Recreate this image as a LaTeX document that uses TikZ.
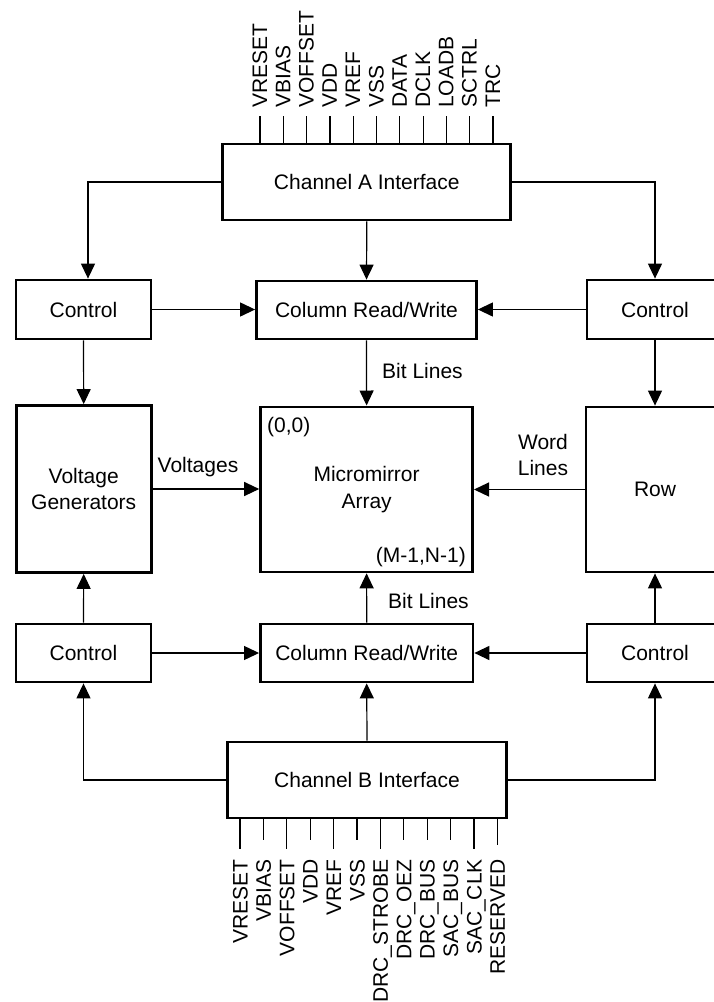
\documentclass[tikz,border=0pt]{standalone}
\usepackage{fontspec}
\setmainfont{Liberation Sans}
\usetikzlibrary{arrows.meta}
\begin{document}
\begin{tikzpicture}[x=1pt,y=-1pt,
  font=\fontsize{21}{26.5}\selectfont,
  box/.style={draw,line width=2.8pt,inner sep=0pt,align=center},
  arr/.style={line width=1.2pt,-{Triangle[length=15pt,width=14pt]}},
  con/.style={line width=1.2pt},
  lbl/.style={inner sep=0pt,align=center},
  pinlbl/.style={inner sep=0pt,rotate=90}]
\useasboundingbox (0,0) rectangle (713,1002);

% boxes
\node[box,minimum width=288pt,minimum height=76pt] (chA) at (366.8,182) {Channel A Interface};
\node[box,minimum width=135pt,minimum height=59pt] (ctlTL) at (83.5,309.5) {Control};
\node[box,minimum width=220pt,minimum height=58pt] (colT) at (366.5,310) {Column Read/Write};
\node[box,minimum width=136pt,minimum height=59pt] (ctlTR) at (655,309.5) {Control};
\node[box,minimum width=135pt,minimum height=167pt] (vg) at (83.7,489) {Voltage\\Generators};
\node[box,minimum width=212pt,minimum height=165pt] (ma) at (366.6,489.4) {Micromirror\\Array};
\node[box,minimum width=138pt,minimum height=165pt] (row) at (655,489.5) {Row};
\node[box,minimum width=135pt,minimum height=58pt] (ctlBL) at (83.5,653) {Control};
\node[box,minimum width=212.5pt,minimum height=58pt] (colB) at (366.7,653) {Column Read/Write};
\node[box,minimum width=136pt,minimum height=58pt] (ctlBR) at (655,653) {Control};
\node[box,minimum width=279.4pt,minimum height=76pt] (chB) at (367,780) {Channel B Interface};

% corner labels
\node[lbl,anchor=west] (c00) at (267,427) {(0,0)};
\node[lbl,anchor=east] (cmn) at (466,557) {(M-1,N-1)};

% connector labels
\node[lbl] (volt) at (198,467) {Voltages};
\node[lbl] (word) at (543,455) {Word\\Lines};
\node[lbl,anchor=west] (bitT) at (382,371) {Bit Lines};
\node[lbl,anchor=west] (bitB) at (388,601) {Bit Lines};

% connectors
\draw[arr] (chA.west) -| ([xshift=4.5pt]ctlTL.north);
\draw[arr] (chA.east) -| (ctlTR.north);
\draw[arr] (chA.south) -- (colT.north);
\draw[arr] (ctlTL.east) -- (ctlTL.east -| colT.west);
\draw[arr] (ctlTR.west) -- (ctlTR.west -| colT.east);
\draw[arr] (ctlTL.south) -- (vg.north);
\draw[arr] (colT.south) -- (ma.north);
\draw[arr] (ctlTR.south) -- (row.north);
\draw[arr] (vg.east) -- (vg.east -| ma.west);
\draw[arr] (row.west) -- (row.west -| ma.east);
\draw[arr] (ctlBL.north) -- (vg.south);
\draw[arr] (colB.north) -- (ma.south);
\draw[arr] (ctlBR.north) -- (row.south);
\draw[arr] (ctlBL.east) -- (colB.west);
\draw[arr] (ctlBR.west) -- (colB.east);
\draw[arr] (chB.west) -| (ctlBL.south);
\draw[arr] (chB.east) -| (ctlBR.south);
\draw[arr] (chB.north) -- (colB.south);

% Channel A pins
\foreach \t [count=\i from 0] in {VRESET,VBIAS,VOFFSET,VDD,VREF,VSS,DATA,DCLK,LOADB,SCTRL,TRC}{
  \pgfmathsetmacro\px{260+23.3*\i}
  \draw[con] (\px,144) -- (\px,116);
  \node[pinlbl,anchor=base west] (ta\i) at (\px+7,108) {\t};
}
% Channel B pins
\foreach \t/\e [count=\i from 0] in {VRESET/849,VBIAS/840,VOFFSET/849,VDD/840,VREF/849,VSS/840,DRC\_STROBE/849,DRC\_OEZ/840,DRC\_BUS/840,SAC\_BUS/840,SAC\_CLK/849,RESERVED/845}{
  \pgfmathsetmacro\px{240+23.4*\i}
  \draw[con] (\px,818) -- (\px,\e);
  \node[pinlbl,anchor=base east] (tb\i) at (\px+7.5,859) {\t};
}
\end{tikzpicture}
\end{document}
